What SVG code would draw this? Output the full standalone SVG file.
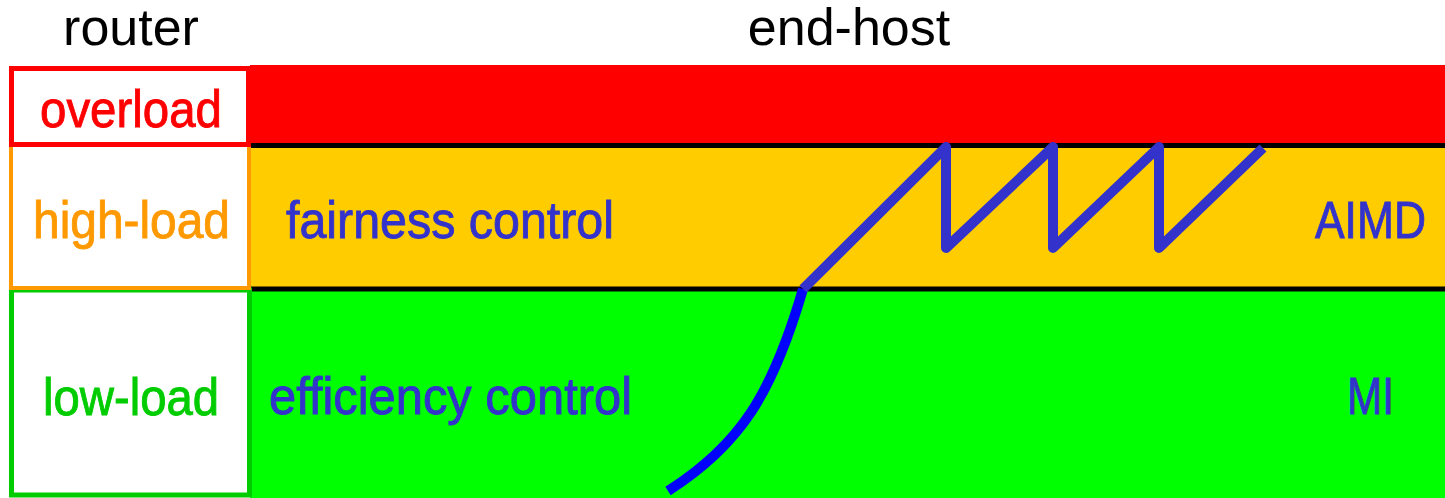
<svg xmlns="http://www.w3.org/2000/svg" width="1445" height="498" viewBox="0 0 1445 498">
  <style>
    text { font-family: "Liberation Sans", Arial, sans-serif; font-size: 52px; }
    .head { fill: #000000; text-anchor: middle; }
    .lbl { text-anchor: middle; stroke-width: 0.9; }
    .blue { fill: #3333CC; stroke: #3333CC; stroke-width: 0.9; }
    .divider { stroke: #000000; stroke-width: 5; }
  </style>

  <!-- column headings -->
  <text class="head" x="131" y="45">router</text>
  <text class="head" x="849" y="45">end-host</text>

  <!-- end-host load bands -->
  <g id="bands">
    <rect x="250" y="65" width="1195" height="80" fill="#FF0000"/>
    <rect x="250" y="145" width="1195" height="144" fill="#FFCC00"/>
    <rect x="250" y="289" width="1195" height="209" fill="#00FF00"/>
    <line class="divider" x1="250" y1="145.5" x2="1445" y2="145.5"/>
    <line class="divider" x1="250" y1="289" x2="1445" y2="289"/>
  </g>

  <!-- router state boxes -->
  <g id="low-load">
    <rect x="11.5" y="290" width="238" height="205" fill="#FFFFFF" stroke="#00CC00" stroke-width="5"/>
    <text class="lbl" x="131" y="415" fill="#00CC00" stroke="#00CC00" textLength="176" lengthAdjust="spacingAndGlyphs">low-load</text>
  </g>
  <g id="high-load">
    <rect x="11" y="145" width="238" height="143" fill="#FFFFFF" stroke="#FF9900" stroke-width="4"/>
    <text class="lbl" x="131.5" y="238" fill="#FF9900" stroke="#FF9900" textLength="197" lengthAdjust="spacingAndGlyphs">high-load</text>
  </g>
  <g id="overload">
    <rect x="11.5" y="68.5" width="237" height="76" fill="#FFFFFF" stroke="#FF0000" stroke-width="5"/>
    <text class="lbl" x="131" y="127" fill="#FF0000" stroke="#FF0000" textLength="182" lengthAdjust="spacingAndGlyphs">overload</text>
  </g>

  <!-- control regime labels -->
  <g id="fairness">
    <text class="blue" x="286" y="238" textLength="328" lengthAdjust="spacingAndGlyphs">fairness control</text>
    <text class="blue" x="1315" y="238" textLength="111" lengthAdjust="spacingAndGlyphs">AIMD</text>
  </g>
  <g id="efficiency">
    <text class="blue" x="269" y="414" textLength="363" lengthAdjust="spacingAndGlyphs">efficiency control</text>
    <text class="blue" x="1347" y="414" textLength="47" lengthAdjust="spacingAndGlyphs">MI</text>
  </g>

  <!-- congestion window trace -->
  <g id="connectors" fill="none" stroke-width="10">
    <path d="M668,491 C740,445 772,395 803,289" stroke="#0000FF"/>
    <polyline points="803,289 946,147 946,248 1053,147 1053,248 1159,147 1159,248 1263,148" stroke="#3333CC" stroke-linejoin="round"/>
  </g>
</svg>
